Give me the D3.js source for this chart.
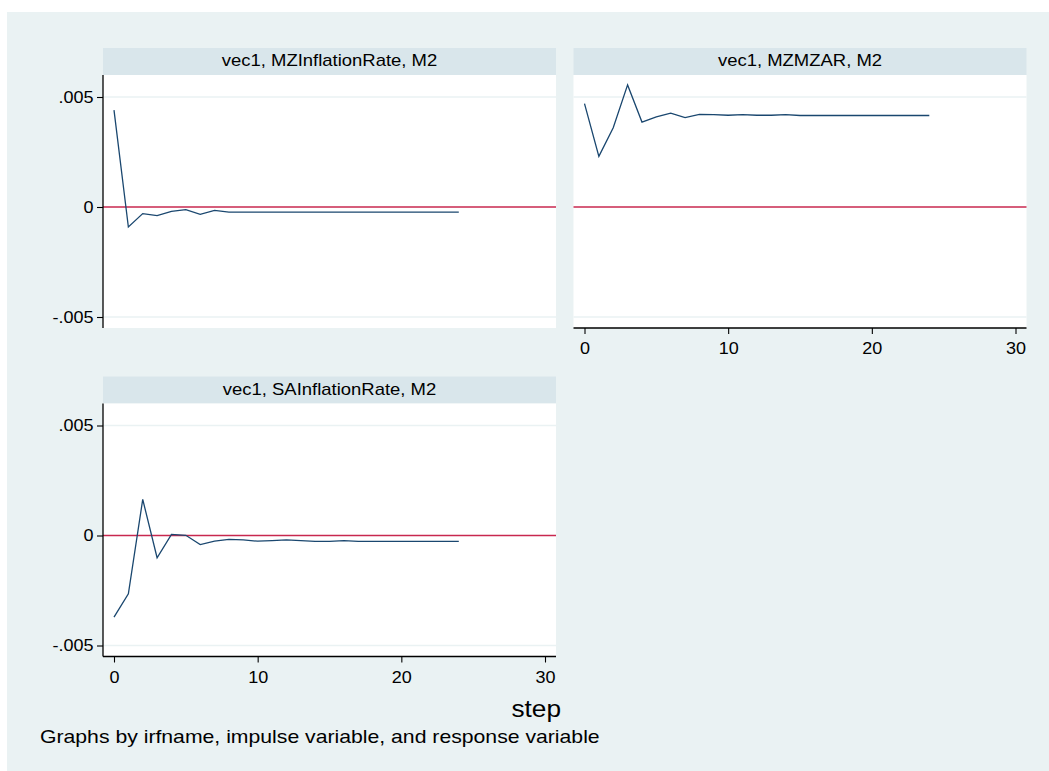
<!DOCTYPE html>
<html>
<head>
<meta charset="utf-8">
<script src="https://cdn.jsdelivr.net/npm/d3@7"></script>
<style>
  html, body { margin: 0; padding: 0; background: #ffffff; }
  svg { display: block; font-family: "Liberation Sans", Arial, sans-serif; }
</style>
</head>
<body>
<svg id="chart" width="1049" height="771"></svg>
<script>
// Impulse-response functions, vec1, impulse M2
const steps = d3.range(0, 25);

const panelTitles = [
  "vec1, MZInflationRate, M2",
  "vec1, MZMZAR, M2",
  "vec1, SAInflationRate, M2"
];

const irfMZInflationRate = [
  0.0044, -0.00091, -0.0003, -0.00039, -0.0002, -0.00012, -0.00033, -0.00015,
  -0.00023, -0.00023, -0.00023, -0.00023, -0.00023, -0.00023, -0.00023, -0.00023,
  -0.00023, -0.00023, -0.00023, -0.00023, -0.00023, -0.00023, -0.00023, -0.00023, -0.00023
];

const irfMZMZAR = [
  0.0047, 0.0023, 0.0036, 0.00555, 0.00386, 0.0041, 0.00427, 0.00406,
  0.00421, 0.0042, 0.00417, 0.0042, 0.00417, 0.00417, 0.0042, 0.00416,
  0.00416, 0.00416, 0.00416, 0.00416, 0.00416, 0.00416, 0.00416, 0.00416, 0.00416
];

const irfSAInflationRate = [
  -0.00371, -0.00265, 0.00164, -0.00101, 0.00005, 0.00001, -0.00041, -0.00026,
  -0.00018, -0.0002, -0.00026, -0.00023, -0.0002, -0.00023, -0.00027, -0.00027,
  -0.00023, -0.00027, -0.00027, -0.00027, -0.00027, -0.00027, -0.00027, -0.00027, -0.00027
];

const yTicks = [-0.005, 0, 0.005];
const yTickLabels = ["-.005", "0", ".005"];
const xTicks = [0, 10, 20, 30];
const xTickLabels = ["0", "10", "20", "30"];

const xAxisTitle = "step";
const note = "Graphs by irfname, impulse variable, and response variable";

// ---- layout ----
const W = 1049, H = 771;
const colors = {
  bg: "#eaf2f3",
  strip: "#d9e6eb",
  plot: "#ffffff",
  grid: "#eaf2f3",
  line: "#1a476f",
  ref: "#c8284f",
  axis: "#000000"
};
// glyphs are drawn slightly wide
const stretch = 1.14;

const svg = d3.select("#chart");

svg.append("rect")
  .attr("x", 7).attr("y", 12)
  .attr("width", W - 7).attr("height", H - 12)
  .attr("fill", colors.bg);

function label(x, y, txt, size, anchor) {
  return svg.append("text")
    .attr("transform", `translate(${x},${y}) scale(${stretch},1)`)
    .attr("text-anchor", anchor || "start")
    .attr("font-size", size)
    .attr("fill", "#000")
    .text(txt);
}

const plotW = 453, plotH = 253, stripH = 27;
const panels = [
  { title: panelTitles[0], values: irfMZInflationRate, x: 103, y: 75, yAxis: true, xAxis: false },
  { title: panelTitles[1], values: irfMZMZAR, x: 573.5, y: 75, yAxis: false, xAxis: true },
  { title: panelTitles[2], values: irfSAInflationRate, x: 103, y: 403.5, yAxis: true, xAxis: true }
];

const xPad = 11;
const x = d3.scaleLinear().domain([0, 30]).range([xPad, plotW - xPad]);
const y = d3.scaleLinear().domain([-0.0055, 0.006]).range([plotH, 0]);

const yFmt = d => yTickLabels[yTicks.indexOf(d)];
const xFmt = d => xTickLabels[xTicks.indexOf(d)];

panels.forEach(p => {
  // title strip
  svg.append("rect")
    .attr("x", p.x).attr("y", p.y - stripH)
    .attr("width", plotW).attr("height", stripH)
    .attr("fill", colors.strip);
  label(p.x + plotW / 2, p.y - 9, p.title, 16.2, "middle");

  const g = svg.append("g").attr("transform", `translate(${p.x},${p.y})`);

  g.append("rect")
    .attr("width", plotW).attr("height", plotH)
    .attr("fill", colors.plot);

  // horizontal grid lines
  g.selectAll("line.grid")
    .data(yTicks.filter(t => t !== 0))
    .join("line")
    .attr("class", "grid")
    .attr("x1", 0).attr("x2", plotW)
    .attr("y1", d => y(d)).attr("y2", d => y(d))
    .attr("stroke", colors.grid)
    .attr("stroke-width", 1.5);

  // reference line at zero
  g.append("line")
    .attr("x1", 0).attr("x2", plotW)
    .attr("y1", y(0)).attr("y2", y(0))
    .attr("stroke", colors.ref)
    .attr("stroke-width", 1.3);

  // response path
  const line = d3.line().x((d, i) => x(steps[i])).y(d => y(d));
  g.append("path")
    .datum(p.values)
    .attr("d", line)
    .attr("fill", "none")
    .attr("stroke", colors.line)
    .attr("stroke-width", 1.3)
    .attr("stroke-linejoin", "miter");

  if (p.yAxis) {
    const ya = g.append("g")
      .call(d3.axisLeft(y).tickValues(yTicks).tickFormat(yFmt).tickSize(6).tickPadding(3).tickSizeOuter(0));
    ya.select(".domain").attr("d", `M0,0V${plotH}`).attr("stroke", colors.axis).attr("stroke-width", 1.3);
    ya.selectAll(".tick line").attr("stroke", colors.axis).attr("stroke-width", 1.1);
    ya.selectAll(".tick text")
      .attr("x", -9.5 / stretch)
      .attr("transform", `scale(${stretch},1)`)
      .attr("font-size", 15.8)
      .attr("font-family", "Liberation Sans, Arial, sans-serif")
      .attr("fill", "#000");
  }

  if (p.xAxis) {
    const xa = g.append("g")
      .attr("transform", `translate(0,${plotH})`)
      .call(d3.axisBottom(x).tickValues(xTicks).tickFormat(xFmt).tickSize(6).tickPadding(0).tickSizeOuter(0));
    xa.select(".domain").attr("d", `M0,0H${plotW}`).attr("stroke", colors.axis).attr("stroke-width", 1.3);
    xa.selectAll(".tick line").attr("stroke", colors.axis).attr("stroke-width", 1.1);
    xa.selectAll(".tick text")
      .attr("y", 26.5)
      .attr("dy", null)
      .attr("transform", `scale(${stretch},1)`)
      .attr("font-size", 15.8)
      .attr("font-family", "Liberation Sans, Arial, sans-serif")
      .attr("fill", "#000");
  }
});

// x-axis title and note
label(561, 717, xAxisTitle, 23, "end");
label(40, 743, note, 18.6, "start");
</script>
</body>
</html>
